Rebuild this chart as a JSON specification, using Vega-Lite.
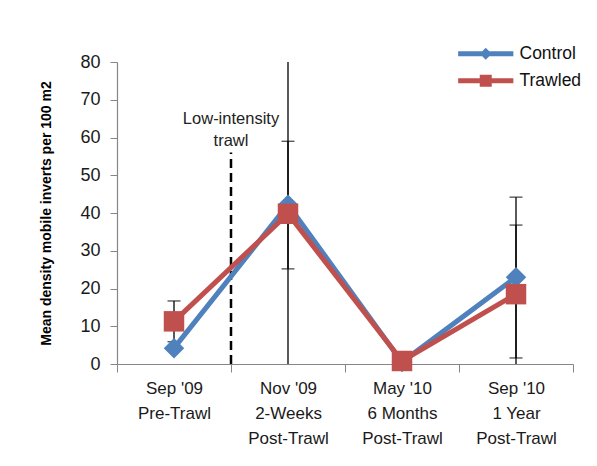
{
  "$schema": "https://vega.github.io/schema/vega-lite/v6.json",
  "width": 456,
  "height": 302,
  "autosize": {"type": "none"},
  "padding": {"left": 117, "top": 62, "right": 24, "bottom": 102},
  "background": "white",
  "config": {
    "font": "Liberation Sans",
    "view": {"stroke": null},
    "axisX": {"labelAngle": 0, "tickBand": "extent", "labelFontSize": 17, "labelLineHeight": 25, "labelPadding": 8, "tickSize": 8, "domainColor": "#868686", "tickColor": "#868686", "labelColor": "#1a1a1a", "grid": false, "domainWidth": 1.2},
    "axisY": {"labelFontSize": 18, "labelPadding": 10, "tickSize": 7, "domainColor": "#868686", "tickColor": "#868686", "labelColor": "#1a1a1a", "grid": false, "titleFontSize": 14, "titleFontWeight": "bold", "titleColor": "#000", "titlePadding": 26, "domainWidth": 1.2, "labelOverlap": false}
  },
  "datasets": {
    "main": [
      {"cat": "Sep '09|Pre-Trawl", "series": "Control", "value": 4.2},
      {"cat": "Nov '09|2-Weeks|Post-Trawl", "series": "Control", "value": 42.2},
      {"cat": "May '10|6 Months|Post-Trawl", "series": "Control", "value": 0.5},
      {"cat": "Sep '10|1 Year|Post-Trawl", "series": "Control", "value": 23.0},
      {"cat": "Sep '09|Pre-Trawl", "series": "Trawled", "value": 11.3},
      {"cat": "Nov '09|2-Weeks|Post-Trawl", "series": "Trawled", "value": 39.8},
      {"cat": "May '10|6 Months|Post-Trawl", "series": "Trawled", "value": 0.8},
      {"cat": "Sep '10|1 Year|Post-Trawl", "series": "Trawled", "value": 18.5}
    ],
    "err": [
      {"cat": "Sep '09|Pre-Trawl", "series": "Trawled", "lo": 5.9, "hi": 16.7},
      {"cat": "Nov '09|2-Weeks|Post-Trawl", "series": "Control", "lo": 25.2, "hi": 59.0},
      {"cat": "Nov '09|2-Weeks|Post-Trawl", "series": "Trawled", "lo": -5, "hi": 85},
      {"cat": "Sep '10|1 Year|Post-Trawl", "series": "Control", "lo": 1.6, "hi": 44.2},
      {"cat": "Sep '10|1 Year|Post-Trawl", "series": "Trawled", "lo": -1, "hi": 36.8}
    ],
    "ann": [
      {"cat": "Sep '09|Pre-Trawl", "y0": 0, "y1": 56, "ly": 65, "label": "Low-intensity\ntrawl"}
    ]
  },
  "layer": [
    {
      "data": {"name": "err"},
      "mark": {"type": "rule", "clip": true, "color": "#000", "strokeWidth": 1.3},
      "encoding": {
        "x": {"field": "cat", "type": "nominal", "title": null, "scale": {"domain": ["Sep '09|Pre-Trawl", "Nov '09|2-Weeks|Post-Trawl", "May '10|6 Months|Post-Trawl", "Sep '10|1 Year|Post-Trawl"], "paddingInner": 0, "paddingOuter": 0}, "axis": {"labelExpr": "split(datum.label, '|')"}},
        "y": {"field": "lo", "type": "quantitative", "title": "Mean density mobile inverts per 100  m2", "scale": {"domain": [0, 80]}, "axis": {"values": [0, 10, 20, 30, 40, 50, 60, 70, 80]}},
        "y2": {"field": "hi"}
      }
    },
    {
      "data": {"name": "err"},
      "mark": {"type": "tick", "clip": true, "color": "#000", "size": 13, "thickness": 1.3},
      "encoding": {
        "x": {"field": "cat", "type": "nominal", "title": null, "axis": {"labelExpr": "split(datum.label, '|')"}},
        "y": {"field": "lo", "type": "quantitative", "title": "Mean density mobile inverts per 100  m2", "scale": {"domain": [0, 80]}, "axis": {"values": [0, 10, 20, 30, 40, 50, 60, 70, 80]}}
      }
    },
    {
      "data": {"name": "err"},
      "mark": {"type": "tick", "clip": true, "color": "#000", "size": 13, "thickness": 1.3},
      "encoding": {
        "x": {"field": "cat", "type": "nominal", "title": null, "axis": {"labelExpr": "split(datum.label, '|')"}},
        "y": {"field": "hi", "type": "quantitative", "title": "Mean density mobile inverts per 100  m2", "scale": {"domain": [0, 80]}, "axis": {"values": [0, 10, 20, 30, 40, 50, 60, 70, 80]}}
      }
    },
    {
      "data": {"name": "ann"},
      "mark": {"type": "rule", "color": "#000", "strokeWidth": 2.5, "strokeDash": [9, 5]},
      "encoding": {
        "x": {"field": "cat", "type": "nominal", "title": null, "bandPosition": 1, "axis": {"labelExpr": "split(datum.label, '|')"}},
        "y": {"field": "y0", "type": "quantitative", "title": "Mean density mobile inverts per 100  m2", "scale": {"domain": [0, 80]}, "axis": {"values": [0, 10, 20, 30, 40, 50, 60, 70, 80]}},
        "y2": {"field": "y1"}
      }
    },
    {
      "data": {"name": "ann"},
      "mark": {"type": "text", "fontSize": 16.5, "lineBreak": "\n", "lineHeight": 22, "align": "center", "baseline": "middle", "color": "#222"},
      "encoding": {
        "x": {"field": "cat", "type": "nominal", "title": null, "bandPosition": 1, "axis": {"labelExpr": "split(datum.label, '|')"}},
        "y": {"field": "ly", "type": "quantitative", "title": "Mean density mobile inverts per 100  m2", "scale": {"domain": [0, 80]}, "axis": {"values": [0, 10, 20, 30, 40, 50, 60, 70, 80]}},
        "text": {"field": "label"}
      }
    },
    {
      "data": {"name": "main"},
      "mark": {"type": "line", "strokeWidth": 5},
      "encoding": {
        "x": {"field": "cat", "type": "nominal", "title": null, "axis": {"labelExpr": "split(datum.label, '|')"}},
        "y": {"field": "value", "type": "quantitative", "title": "Mean density mobile inverts per 100  m2", "scale": {"domain": [0, 80]}, "axis": {"values": [0, 10, 20, 30, 40, 50, 60, 70, 80]}},
        "color": {
          "field": "series", "type": "nominal",
          "scale": {"domain": ["Control", "Trawled"], "range": ["#4F81BD", "#C0504D"]},
          "legend": {
            "orient": "none", "legendX": 360, "legendY": -17, "title": null, "padding": 0,
            "symbolSize": 144, "labelOffset": 25, "labelFontSize": 17.5, "labelColor": "#111", "rowPadding": 8,
            "encode": {
              "symbols": {
                "update": {
                  "shape": {"signal": "datum.value === 'Control' ? 'M-4.6,-0.42L4.6,-0.42L4.6,0.42L-4.6,0.42ZM0,-1L1,0L0,1L-1,0Z' : 'M-4.6,-0.42L4.6,-0.42L4.6,0.42L-4.6,0.42ZM-1,-1L1,-1L1,1L-1,1Z'"},
                  "fill": {"signal": "datum.value === 'Control' ? '#4F81BD' : '#C0504D'"},
                  "stroke": {"value": "transparent"},
                  "strokeWidth": {"value": 0},
                  "opacity": {"value": 1},
                  "fillOpacity": {"value": 1}
                }
              }
            }
          }
        }
      }
    },
    {
      "data": {"name": "main"},
      "transform": [{"filter": "datum.series === 'Control'"}],
      "mark": {"type": "point", "shape": "diamond", "filled": true, "size": 420, "opacity": 1, "color": "#4F81BD"},
      "encoding": {
        "x": {"field": "cat", "type": "nominal", "title": null, "axis": {"labelExpr": "split(datum.label, '|')"}},
        "y": {"field": "value", "type": "quantitative", "title": "Mean density mobile inverts per 100  m2", "scale": {"domain": [0, 80]}, "axis": {"values": [0, 10, 20, 30, 40, 50, 60, 70, 80]}}
      }
    },
    {
      "data": {"name": "main"},
      "transform": [{"filter": "datum.series === 'Trawled'"}],
      "mark": {"type": "point", "shape": "square", "filled": true, "size": 420, "opacity": 1, "color": "#C0504D"},
      "encoding": {
        "x": {"field": "cat", "type": "nominal", "title": null, "axis": {"labelExpr": "split(datum.label, '|')"}},
        "y": {"field": "value", "type": "quantitative", "title": "Mean density mobile inverts per 100  m2", "scale": {"domain": [0, 80]}, "axis": {"values": [0, 10, 20, 30, 40, 50, 60, 70, 80]}}
      }
    }
  ]
}
